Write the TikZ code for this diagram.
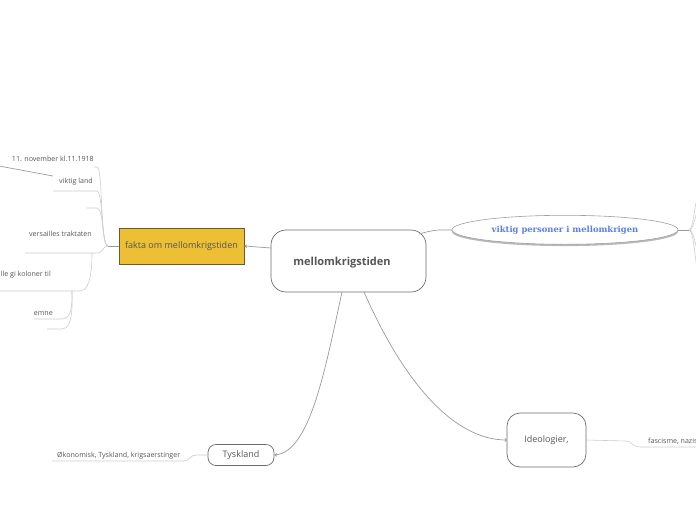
\documentclass[tikz,border=0pt]{standalone}
\usepackage{fontspec}
\setmainfont{Open Sans}
\newfontfamily\slabfont{DejaVu Serif}
\usetikzlibrary{shapes.geometric,arrows.meta}
\definecolor{txt}{HTML}{555555}
\definecolor{leafline}{HTML}{CCCCCC}
\definecolor{mainline}{HTML}{9A9A9A}
\definecolor{gold}{HTML}{EDBF35}
\definecolor{goldborder}{HTML}{6A5A30}
\definecolor{bluetxt}{HTML}{5B7CF5}
\tikzset{
  leaf/.style={font=\fontsize{7.1}{8}\selectfont, text=txt, inner sep=0pt},
  leafln/.style={draw=leafline, line width=0.6pt},
  mainln/.style={draw=mainline, line width=0.7pt},
  roundbox/.style={draw=gray!85!black, line width=0.7pt, fill=white, rounded corners=#1},
}
\begin{document}
\begin{tikzpicture}[x=1pt,y=-1pt]
\useasboundingbox (0,0) rectangle (696,520);
\begin{scope}
\clip (0,0) rectangle (696,520);

% central
\node[roundbox=15pt, minimum width=155pt, minimum height=62pt] (c) at (348.5,261) {};
\node[font=\bfseries\fontsize{11}{13}\selectfont, text=txt, inner sep=0pt] (ct) at (342,263) {mellomkrigstiden};

% fakta
\node[draw=goldborder, fill=gold, line width=0.7pt, minimum width=125pt, minimum height=36pt, inner sep=0pt,
      font=\fontsize{9}{10}\selectfont, text=txt] (f) at (181.5,246) {fakta om mellomkrigstiden};

% ellipse
\node[ellipse, fill=gray!55, minimum width=226pt, minimum height=29pt, inner sep=0pt] (es) at (565,231.6) {};
\node[ellipse, draw=gray!75, fill=white, line width=0.6pt, minimum width=226pt, minimum height=29pt, inner sep=0pt,
      font=\slabfont\bfseries\fontsize{8.4}{9}\selectfont, text=bluetxt] (e) at (565,229.8) {viktig personer i mellomkrigen};

% Tyskland
\node[roundbox=8pt, minimum width=66pt, minimum height=21pt, inner sep=0pt, font=\fontsize{9}{10}\selectfont, text=txt] (t) at (241,455) {Tyskland};

% Ideologier
\node[roundbox=13pt, minimum width=79pt, minimum height=54pt, inner sep=0pt, font=\fontsize{9}{10}\selectfont, text=txt] (i) at (546.5,440) {Ideologier,};

% main connectors
\coordinate (cf) at (271,248);
\coordinate (ce) at (419,234);
\coordinate (ctk) at (342,292);
\coordinate (ci) at (364,292);
\coordinate (fr) at (244.3,246);
\coordinate (el) at (452,230);
\coordinate (tr) at (274.3,455);
\coordinate (il) at (507.3,440);
\draw[mainln, -{Straight Barb[length=2pt,width=3pt]}] (cf) -- (fr);
\draw[mainln] (ce) .. controls (436,229) and (440,230) .. (el);
\draw[mainln, -{Straight Barb[length=2pt,width=3pt]}] (ctk) .. controls (325,370) and (310,452) .. (tr);
\draw[mainln, -{Straight Barb[length=2pt,width=3pt]}] (ci) .. controls (405,385) and (455,440) .. (il);

% right of ellipse
\coordinate (er) at (678,230);
\coordinate (eh) at (689,230);
\coordinate (eu1) at (697,198);
\coordinate (eu2) at (697,212);
\coordinate (ed1) at (697,250);
\coordinate (ed2) at (697,268);
\draw[mainln] (er) -- (eh);
\draw[leafln] (eh) .. controls (693,230) and (694,210) .. (eu1);
\draw[leafln] (eh) .. controls (693,230) and (695,218) .. (eu2);
\draw[leafln] (eh) .. controls (693,230) and (695,242) .. (ed1);
\draw[leafln] (eh) .. controls (693,230) and (694,250) .. (ed2);

% Ideologier child
\coordinate (ir) at (586,440);
\coordinate (ia) at (626,441);
\coordinate (ib) at (640,447);
\coordinate (ic) at (697,447);
\draw[leafln] (ir) -- (ia) .. controls (632,441) and (632,447) .. (ib) -- (ic);
\node[leaf, anchor=base west] (fas) at (648,443) {fascisme, nazis};

% Tyskland child
\coordinate (tl) at (208,455);
\coordinate (ta) at (196,455);
\coordinate (tb) at (184,461);
\coordinate (tc) at (52,461);
\draw[leafln] (tl) -- (ta) .. controls (190,455) and (190,461) .. (tb) -- (tc);
\node[leaf, anchor=base west] (oko) at (57,457) {Økonomisk, Tyskland, krigsaerstinger};

% fakta children
\coordinate (fl) at (119,246);
\coordinate (h) at (108,246);
\draw[mainln] (fl) -- (h);
\coordinate (u1r) at (97,167);
\coordinate (u1l) at (94,167);
\coordinate (u2r) at (97,191);
\coordinate (u2l) at (53,191);
\coordinate (u3r) at (97,208);
\coordinate (u3l) at (86,208);
\coordinate (u4r) at (97,253);
\coordinate (u4l) at (25,253);
\draw[leafln] (h) .. controls (100,246) and (103,167) .. (u1r) -- (u1l);
\draw[leafln] (h) .. controls (101,246) and (103,191) .. (u2r) -- (u2l);
\draw[leafln] (h) .. controls (102,246) and (104,208) .. (u3r) -- (u3l);
\draw[leafln] (h) .. controls (102,246) and (104,253) .. (u4r) -- (u4l);
\node[leaf, anchor=base east] (nov) at (94,161) {11. november kl.11.1918};
\node[leaf, anchor=base east] (vl) at (93,183) {viktig land};
\node[leaf, anchor=base east] (vt) at (92,236) {versailles traktaten};
\coordinate (vla) at (53,176);
\coordinate (vlb) at (-1,166);
\draw[mainln] (vla) -- (vlb);

\coordinate (k1) at (92,253);
\coordinate (k2) at (80,291);
\coordinate (k3) at (-1,291);
\draw[leafln] (k1) .. controls (92,260) and (92,291) .. (k2) -- (k3);
\node[leaf, anchor=base east] (kol) at (51,276) {lle gi koloner til};

\coordinate (m0) at (72,291);
\coordinate (m1) at (62,319);
\coordinate (m1l) at (34,319);
\coordinate (m2) at (62,329);
\coordinate (m2l) at (47,329);
\draw[leafln] (m0) .. controls (72,300) and (73,319) .. (m1) -- (m1l);
\draw[leafln] (m0) .. controls (72,300) and (74,329) .. (m2) -- (m2l);
\node[leaf, anchor=base east] (emne) at (53,315) {emne};
\end{scope}
\end{tikzpicture}
\end{document}
